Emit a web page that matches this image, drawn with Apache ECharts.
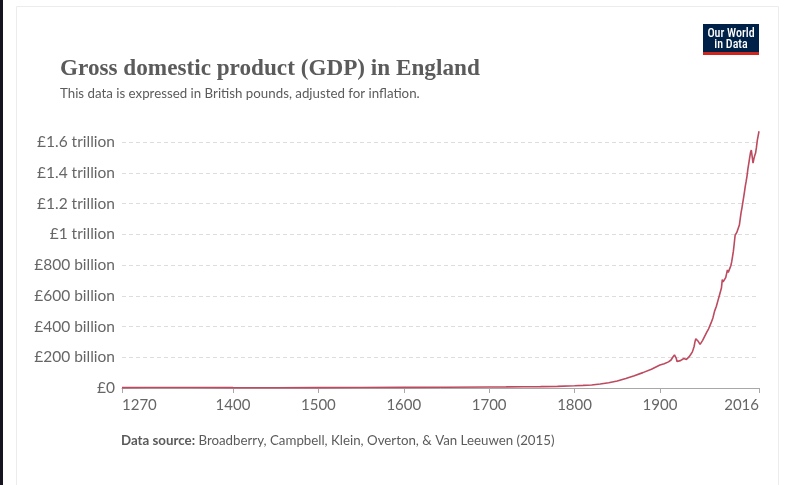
<!DOCTYPE html>
<html>
<head>
<meta charset="utf-8">
<script src="https://cdn.jsdelivr.net/npm/echarts@6/dist/echarts.min.js"></script>
<style>
html,body{margin:0;padding:0;background:#fff;}
#chart{width:786px;height:485px;}
</style>
</head>
<body>
<div id="chart"></div>
<script>
var years = [1270,1300,1348,1350,1400,1450,1500,1550,1600,1650,1700,1720,1740,1760,1780,1800,1810,1820,1830,1840,1850,1860,1870,1880,1890,1900,1905,1910,1913,1915,1917,1918,1919,1920,1921,1922,1924,1926,1928,1929,1930,1931,1932,1934,1936,1937,1938,1939,1940,1941,1942,1943,1944,1945,1946,1947,1948,1950,1952,1955,1957,1960,1962,1964,1966,1968,1970,1972,1973,1974,1975,1976,1977,1978,1979,1980,1981,1982,1983,1984,1985,1986,1987,1988,1989,1990,1991,1992,1993,1994,1995,1996,1997,1998,1999,2000,2001,2002,2003,2004,2005,2006,2007,2008,2009,2010,2011,2012,2013,2014,2015,2016];
// GDP, billions of British pounds (inflation-adjusted)
var gdpBillions = [2.5,2.9,3.2,2.5,2.2,2.1,2.4,3.0,4.2,5.2,6.8,7.2,7.8,9.0,10.5,14.5,17,20,26,34,45,62,80,100,122,150,158,170,182,200,215,220,195,172,162,168,178,180,192,197,195,186,188,202,218,228,235,245,270,300,320,332,318,302,292,284,292,310,322,365,385,425,455,500,530,570,610,650,705,690,680,700,718,742,768,752,750,765,795,820,855,890,940,992,1005,1012,1003,1010,1060,1100,1140,1170,1205,1240,1275,1315,1345,1380,1425,1460,1495,1530,1548,1535,1462,1490,1512,1528,1565,1610,1640,1670];
var yTickValues = [0,200,400,600,800,1000,1200,1400,1600];
var yTickLabels = ['£0','£200 billion','£400 billion','£600 billion','£800 billion','£1 trillion','£1.2 trillion','£1.4 trillion','£1.6 trillion'];
var xTickValues = [1270,1400,1500,1600,1700,1800,1900,2016];

var seriesData = years.map(function(y,i){return [y, gdpBillions[i]];});

var chart = echarts.init(document.getElementById('chart'), null, {renderer:'canvas'});
chart.setOption({
  animation:false,
  backgroundColor:'#ffffff',
  graphic:[
    {type:'rect', left:0, top:0, shape:{width:3, height:485}, style:{fill:'#16141f'}, z:-10},
    {type:'rect', left:16, top:6, shape:{width:762, height:490}, style:{fill:'#ffffff', stroke:'#ececec', lineWidth:1}, z:-9},
    {type:'rect', left:703, top:24, shape:{width:56, height:31}, style:{fill:'#002147'}, z:10},
    {type:'rect', left:703, top:52, shape:{width:56, height:3}, style:{fill:'#ce261e'}, z:11},
    {type:'text', x:731, y:27.5, style:{text:'Our World', fill:'#ffffff', font:'500 12px "Liberation Sans Narrow", "Roboto Condensed", "Roboto", sans-serif', align:'center', verticalAlign:'top'}, z:12},
    {type:'text', x:731, y:39, style:{text:'in Data', fill:'#ffffff', font:'500 12px "Liberation Sans Narrow", "Roboto Condensed", "Roboto", sans-serif', align:'center', verticalAlign:'top'}, z:12},
    {type:'text', left:121, top:434, style:{
      text:'{b|Data source:} {n|Broadberry, Campbell, Klein, Overton, & Van Leeuwen (2015)}',
      rich:{
        b:{fontFamily:'Lato', fontWeight:'bold', fontSize:13.3, fill:'#5b5b5b', color:'#5b5b5b'},
        n:{fontFamily:'Lato', fontSize:13.3, fill:'#5b5b5b', color:'#5b5b5b'}
      }
    }}
  ],
  title:[
    {text:'Gross domestic product (GDP) in England', left:60, top:58, padding:0,
     textStyle:{fontFamily:'Liberation Serif', fontSize:23.2, fontWeight:'bold', color:'#5b5b5b'}},
    {text:'This data is expressed in British pounds, adjusted for inflation.', left:60, top:87, padding:0,
     textStyle:{fontFamily:'Lato', fontSize:13.3, fontWeight:'normal', color:'#5b5b5b'}}
  ],
  grid:{left:122, right:27, top:142, bottom:97, containLabel:false},
  xAxis:{
    type:'value', min:1270, max:2016,
    axisLine:{show:true, lineStyle:{color:'#a8a8a8', width:1}},
    axisTick:{show:true, length:5, lineStyle:{color:'#a8a8a8'}, customValues:xTickValues},
    splitLine:{show:false},
    axisLabel:{customValues:xTickValues, fontFamily:'Lato', fontSize:15, color:'#666666', margin:10,
      alignMinLabel:'left', alignMaxLabel:'right',
      formatter:function(v){return String(v);}}
  },
  yAxis:{
    type:'value', min:0, max:1600, interval:200,
    axisLine:{show:false}, axisTick:{show:false},
    splitLine:{show:true, lineStyle:{color:'#dddddd', type:[4,3], width:1}},
    axisLabel:{fontFamily:'Lato', fontSize:15.5, color:'#666666', margin:7,
      formatter:function(v){var i=yTickValues.indexOf(v); return i>=0?yTickLabels[i]:'';}}
  },
  series:[{
    type:'line', data:seriesData, showSymbol:false, clip:false,
    lineStyle:{color:'#bd4a5f', width:1.6}, itemStyle:{color:'#bd4a5f'}
  }]
});
</script>
</body>
</html>
